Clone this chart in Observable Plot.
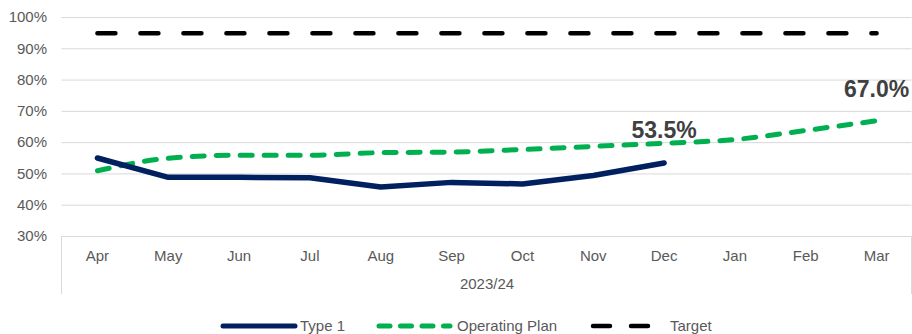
<!DOCTYPE html>
<html>
<head>
<meta charset="utf-8">
<script src="https://cdn.jsdelivr.net/npm/d3@7"></script>
<script src="https://cdn.jsdelivr.net/npm/@observablehq/plot@0.6"></script>
<style>
  html, body { margin: 0; padding: 0; background: #fff; }
  body { width: 912px; height: 334px; overflow: hidden; font-family: "Liberation Sans", Arial, sans-serif; }
  #legend { position: relative; height: 29px; font-size: 15px; color: #595959; }
  #legend .item { position: absolute; top: 6px; height: 29px; display: flex; align-items: center; }
  #legend svg { display: block; }
</style>
</head>
<body>
<div id="chart"></div>
<div id="legend"></div>
<script>
const months = ["Apr", "May", "Jun", "Jul", "Aug", "Sep", "Oct", "Nov", "Dec", "Jan", "Feb", "Mar"];
const type1 = [55.1, 48.9, 48.9, 48.8, 45.8, 47.3, 46.8, 49.5, 53.5];
const operatingPlan = [51.0, 55.0, 56.0, 56.0, 56.8, 57.0, 57.8, 58.8, 59.8, 61.0, 63.9, 67.0];
const target = [95, 95, 95, 95, 95, 95, 95, 95, 95, 95, 95, 95];
const yTicks = [30, 40, 50, 60, 70, 80, 90, 100];
const fiscalYear = "2023/24";
const seriesNames = ["Type 1", "Operating Plan", "Target"];

const FONT = '"Liberation Sans", Arial, sans-serif';
const rows = (vals) => vals.map((v, i) => ({month: months[i], v}));
const type1Rows = rows(type1);
const opRows = rows(operatingPlan);
const targetRows = rows(target);

const W = 912, H = 305, ML = 61.5, MR = 0.5, MT = 17, MB = 69;

const chart = Plot.plot({
  width: W, height: H,
  marginLeft: ML, marginRight: MR, marginTop: MT, marginBottom: MB,
  x: {type: "point", domain: months, padding: 0.5, round: false},
  y: {domain: [30, 100]},
  style: {fontFamily: FONT, fontSize: "15px", color: "#595959", background: "white", overflow: "visible"},
  marks: [
    Plot.ruleY(yTicks, {stroke: "#d9d9d9", strokeWidth: 1, strokeOpacity: 1}),
    Plot.axisY({ticks: yTicks, tickSize: 0, tickPadding: 15, tickFormat: d => d + "%", fontSize: 15, fill: "#595959", label: null}),
    Plot.axisX({tickSize: 0, tickPadding: 14, fontSize: 15, fill: "#595959", label: null}),
    Plot.text([fiscalYear], {text: d => d, frameAnchor: "bottom", lineAnchor: "middle", dy: 48, fontSize: 15, fill: "#595959"}),
    Plot.line(targetRows, {x: "month", y: "v", stroke: "#000000", strokeWidth: 4.5, strokeDasharray: "18,25", strokeLinecap: "round"}),
    Plot.line(opRows, {x: "month", y: "v", stroke: "#00b050", strokeWidth: 5, strokeDasharray: "12,12", strokeLinecap: "round", curve: "monotone-x"}),
    Plot.line(type1Rows, {x: "month", y: "v", stroke: "#002060", strokeWidth: 5.5, strokeLinecap: "round", strokeLinejoin: "round"}),
    Plot.text(type1Rows, Plot.selectLast({x: "month", y: "v", text: d => d.v.toFixed(1) + "%", dy: -32, lineAnchor: "middle", fontWeight: "bold", fontSize: 23, fill: "#404040"})),
    Plot.text(opRows, Plot.selectLast({x: "month", y: "v", text: d => d.v.toFixed(1) + "%", dy: -31, lineAnchor: "middle", fontWeight: "bold", fontSize: 23, fill: "#404040"}))
  ]
});
document.getElementById("chart").appendChild(chart);

// category-axis box sides (Excel multi-level axis frame)
const svg = d3.select(chart);
[ML, W - MR].forEach(x => {
  svg.append("line").attr("x1", x).attr("x2", x).attr("y1", H - MB).attr("y2", H - MB + 58)
    .attr("stroke", "#d9d9d9").attr("stroke-width", 1);
});

// legend
const legend = d3.select("#legend");
const items = [
  {name: seriesNames[0], left: 223, w: 72, gap: 5, stroke: "#002060", sw: 5, dash: null},
  {name: seriesNames[1], left: 379, w: 71, gap: 7, stroke: "#00b050", sw: 5, dash: "11,10.5"},
  {name: seriesNames[2], left: 593, w: 59, gap: 18, stroke: "#000000", sw: 4.5, dash: "17,21"}
];
items.forEach(it => {
  const div = legend.append("div").attr("class", "item").style("left", (it.left - 3) + "px");
  const s = div.append("svg").attr("width", it.w + 6).attr("height", 12);
  const ln = s.append("line").attr("x1", 3).attr("x2", it.w + 3).attr("y1", 6).attr("y2", 6)
    .attr("stroke", it.stroke).attr("stroke-width", it.sw).attr("stroke-linecap", "round");
  if (it.dash) ln.attr("stroke-dasharray", it.dash);
  div.append("span").style("margin-left", (it.gap - 3) + "px").text(it.name);
});
</script>
</body>
</html>
